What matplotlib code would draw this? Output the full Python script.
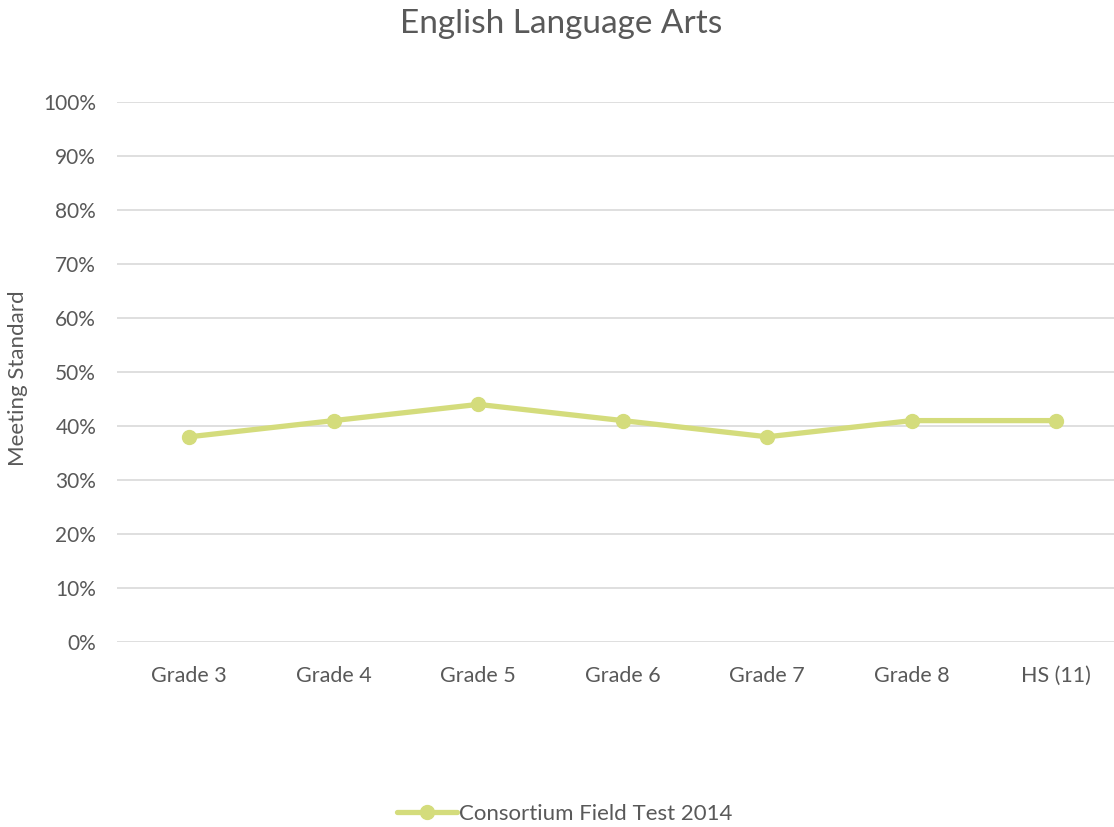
import matplotlib
matplotlib.use("Agg")
import matplotlib.pyplot as plt
from matplotlib.ticker import FuncFormatter

categories = ["Grade 3", "Grade 4", "Grade 5", "Grade 6", "Grade 7", "Grade 8", "HS (11)"]
values = [38, 41, 44, 41, 38, 41, 41]
series_name = "Consortium Field Test 2014"
yticks = [0, 10, 20, 30, 40, 50, 60, 70, 80, 90, 100]

plt.rcParams['font.family'] = ['Lato', 'DejaVu Sans']
txt = '#595959'
line_c = '#d4dc7c'

W, H = 1114, 827
fig = plt.figure(figsize=(W/100, H/100), dpi=100)
left, right, top, bottom = 117, 1128.5, 102, 642
ax = fig.add_axes([left/W, (H-bottom)/H, (right-left)/W, (bottom-top)/H])

x = list(range(len(categories)))
ax.plot(x, values, color=line_c, lw=3.8, marker='o', ms=10, label=series_name, solid_capstyle='round')
ax.set_xlim(-0.5, len(categories)-0.5)
ax.set_ylim(0, 100)
ax.set_yticks(yticks)
ax.yaxis.set_major_formatter(FuncFormatter(lambda v, p: f"{int(v)}%"))
ax.set_xticks(x)
ax.set_xticklabels(categories)
ax.grid(axis='y', color='#d9d9d9', lw=1.2)
ax.set_axisbelow(True)
for s in ax.spines.values():
    s.set_visible(False)
ax.tick_params(length=0, colors=txt)
ax.tick_params(axis='x', labelsize=15.5, pad=17)
ax.tick_params(axis='y', labelsize=15, pad=15)

fig.text(18/W, 1-378/H, "Meeting Standard", rotation=90, ha='center', va='center', fontsize=16, color=txt)
fig.text(561/W, 1-24/H, "English Language Arts", ha='center', va='center', fontsize=24, color=txt)

leg = fig.legend(loc='center', bbox_to_anchor=(565/W, 1-814/H), frameon=False, fontsize=16,
                 handlelength=2.7, handletextpad=0.1, labelcolor=txt)
fig.savefig("out.png", dpi=100)
